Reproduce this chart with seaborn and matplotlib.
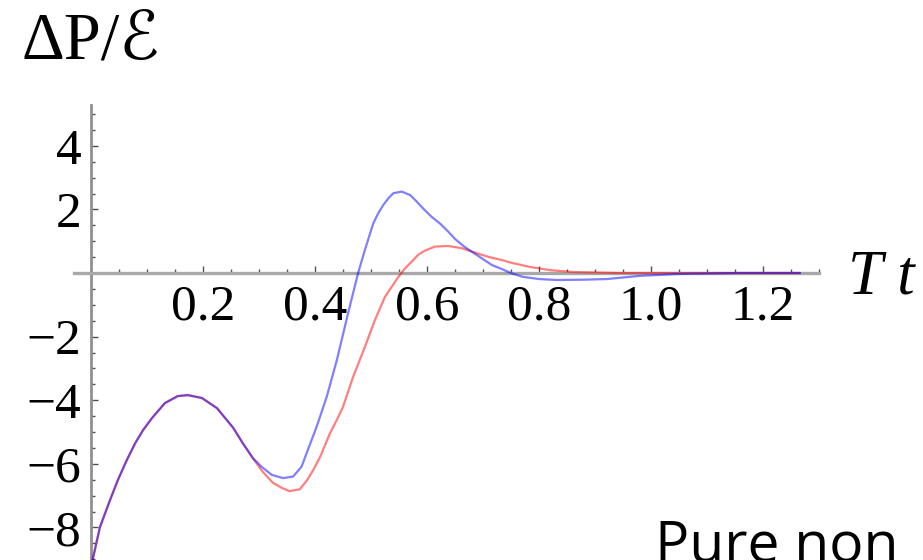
import matplotlib
matplotlib.use("Agg")
import matplotlib.pyplot as plt
import numpy as np
import pandas as pd
import seaborn as sns
from matplotlib.ticker import FixedLocator

# Common branch of both responses (identical at early times)
t_shared = [0.000, 0.004, 0.016, 0.034, 0.048, 0.064, 0.079, 0.093, 0.109,
            0.132, 0.155, 0.173, 0.198, 0.225, 0.254, 0.271, 0.289]
p_shared = [-9.25, -8.93, -7.99, -7.14, -6.51, -5.88, -5.35, -4.94, -4.56,
            -4.09, -3.87, -3.84, -3.93, -4.25, -4.87, -5.35, -5.82]

# Blue response after the branches separate
t_blue = [0.305, 0.323, 0.343, 0.361, 0.376, 0.385, 0.403, 0.421, 0.439,
          0.459, 0.477, 0.489, 0.504, 0.513, 0.522, 0.531, 0.540, 0.555,
          0.570, 0.582, 0.593, 0.608, 0.623, 0.638, 0.650, 0.665, 0.680,
          0.698, 0.716, 0.733, 0.751, 0.771, 0.800, 0.832, 0.880, 0.921,
          0.980, 1.050, 1.160, 1.266]
p_blue = [-6.10, -6.35, -6.45, -6.40, -6.09, -5.67, -4.83, -3.89, -2.74,
          -1.27, 0.00, 0.72, 1.56, 1.88, 2.14, 2.35, 2.51, 2.56,
          2.45, 2.24, 2.03, 1.77, 1.56, 1.30, 1.07, 0.85, 0.67,
          0.46, 0.25, 0.13, -0.01, -0.12, -0.19, -0.22, -0.21, -0.19,
          -0.09, -0.03, 0.00, 0.00]

# Red response after the branches separate
t_red = [0.307, 0.325, 0.341, 0.355, 0.373, 0.386, 0.397, 0.409, 0.427,
         0.439, 0.450, 0.468, 0.489, 0.507, 0.525, 0.549, 0.561, 0.573,
         0.584, 0.596, 0.614, 0.638, 0.662, 0.686, 0.709, 0.733, 0.751,
         0.784, 0.820, 0.861, 0.945, 1.266]
p_red = [-6.26, -6.60, -6.76, -6.86, -6.80, -6.51, -6.19, -5.79, -5.03,
         -4.62, -4.21, -3.27, -2.33, -1.48, -0.75, -0.12, 0.15, 0.36,
         0.57, 0.70, 0.83, 0.85, 0.78, 0.64, 0.51, 0.41, 0.32,
         0.19, 0.09, 0.03, 0.00, 0.00]

x_ticks = [0.2, 0.4, 0.6, 0.8, 1.0, 1.2]
x_tick_labels = ["0.2", "0.4", "0.6", "0.8", "1.0", "1.2"]
y_ticks = [-8, -6, -4, -2, 2, 4]
y_tick_labels = ["\u22128", "\u22126", "\u22124", "\u22122", "2", "4"]

sns.set_style("white")
plt.rcParams["font.family"] = ["Liberation Serif", "DejaVu Serif", "DejaVu Sans"]
plt.rcParams["text.color"] = "black"

df = pd.concat([
    pd.DataFrame({"t": t_shared + t_red, "dp": p_shared + p_red, "curve": "red"}),
    pd.DataFrame({"t": t_shared + t_blue, "dp": p_shared + p_blue, "curve": "blue"}),
], ignore_index=True)

fig = plt.figure(figsize=(9.23, 5.6), dpi=100)
ax = fig.add_axes([0, 0, 1, 1])
ax.set_xlim(-0.1625, 1.4857)
ax.set_ylim(-9.025, 8.585)

sns.lineplot(data=df, x="t", y="dp", hue="curve", hue_order=["red", "blue"],
             palette={"red": "#ff0000", "blue": "#0000ff"}, estimator=None,
             sort=True, linewidth=1.6, alpha=0.5, legend=False, ax=ax, zorder=3)

# Axes crossing at the origin
for side in ["top", "right"]:
    ax.spines[side].set_visible(False)
ax.spines["left"].set_position(("data", 0))
ax.spines["bottom"].set_position(("data", 0))
ax.spines["left"].set_bounds(-9.3, 5.28)
ax.spines["bottom"].set_bounds(-0.03, 1.30)
ax.spines["left"].set_color("#909090")
ax.spines["bottom"].set_color("#a8a8a8")
ax.spines["left"].set_linewidth(2.0)
ax.spines["bottom"].set_linewidth(2.4)

ax.xaxis.set_major_locator(FixedLocator(x_ticks))
ax.set_xticklabels(x_tick_labels)
ax.xaxis.set_minor_locator(FixedLocator(np.arange(0.05, 1.31, 0.05)))
ax.yaxis.set_major_locator(FixedLocator(y_ticks))
ax.set_yticklabels(y_tick_labels)
ax.yaxis.set_minor_locator(FixedLocator(np.arange(-9.0, 5.01, 0.5)))

ax.tick_params(axis="both", which="both", bottom=True, left=True,
               top=False, right=False)
ax.tick_params(axis="both", which="major", direction="in", length=5, width=1,
               color="#505050", labelsize=37, labelcolor="black")
ax.tick_params(axis="both", which="minor", direction="in", length=3, width=1,
               color="#505050")
ax.tick_params(axis="x", which="major", pad=8)
ax.tick_params(axis="y", which="major", pad=7)
ax.set_xlabel("")
ax.set_ylabel("")

fig.text(22 / 923, 1 - 58 / 560, "\u0394P/\u2130", fontsize=48,
         ha="left", va="baseline", color="black")
fig.text(848 / 923, 1 - 293 / 560, "T t", fontsize=45, style="italic",
         ha="left", va="baseline", color="black")
fig.text(655 / 923, 1 - 561 / 560, "Pure non", family=["Open Sans"],
         fontsize=41, ha="left", va="baseline", color="black")

fig.savefig("out.png", dpi=100)
